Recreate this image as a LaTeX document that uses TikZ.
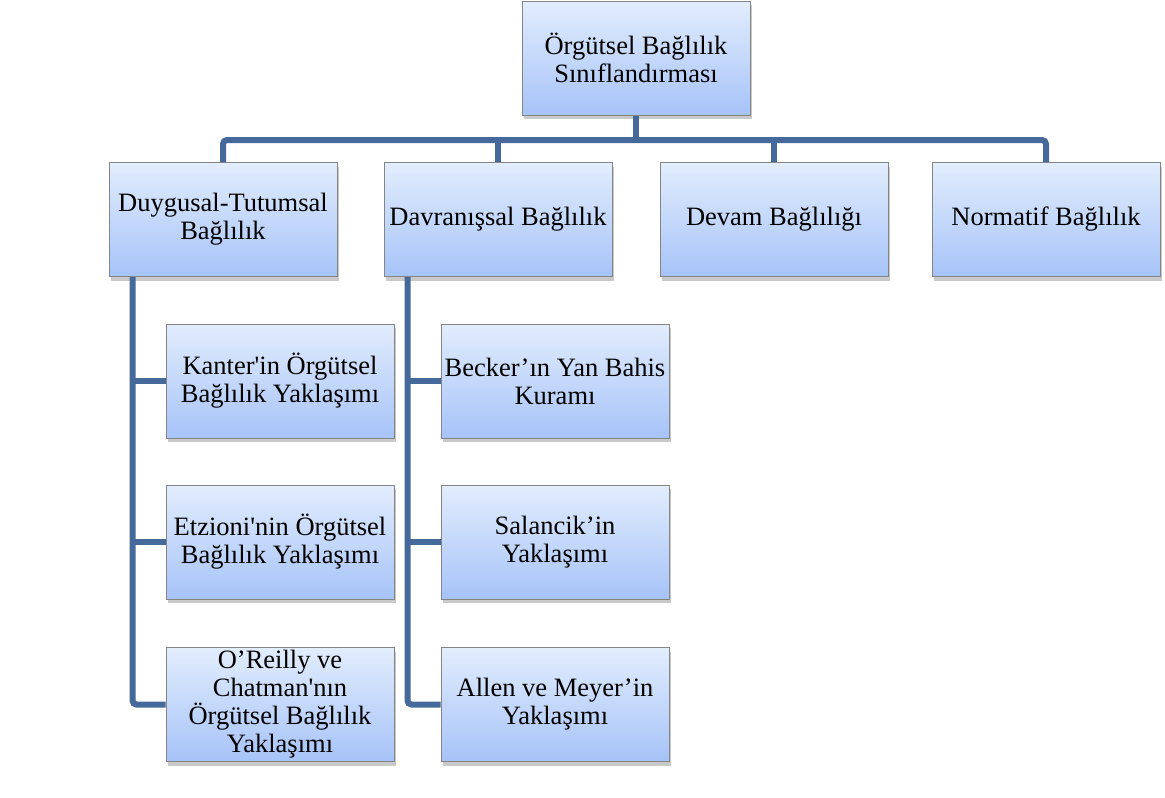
\documentclass[tikz,border=0pt]{standalone}
\usepackage{fontspec}
\setmainfont{Liberation Serif}[Ligatures=TeXOff]
\usetikzlibrary{shadows,calc}
\definecolor{conncol}{HTML}{46699B}
\definecolor{boxtop}{HTML}{E2EDFD}
\definecolor{boxbot}{HTML}{A6C3F8}
\definecolor{boxline}{HTML}{858585}
\tikzset{
  box/.style={rectangle, draw=boxline, line width=1pt, top color=boxtop, bottom color=boxbot,
    minimum width=228pt, minimum height=114pt, inner sep=0pt, align=center,
    font=\fontsize{26.5}{28}\selectfont,
    drop shadow={shadow xshift=2pt, shadow yshift=-4pt, opacity=0.3, fill=black!70}},
  conn/.style={draw=conncol, line width=6pt, rounded corners=4pt}
}
\begin{document}
\begin{tikzpicture}[x=1pt,y=-1pt]
\useasboundingbox (0,0) rectangle (1165,798);
\node[box] (root) at (636,58) {Örgütsel Bağlılık\\Sınıflandırması};
\node[box] (duy) at (223,219.5) {Duygusal-Tutumsal\\Bağlılık};
\node[box] (dav) at (498,219.5) {Davranışsal Bağlılık};
\node[box] (dev) at (774,219.5) {Devam Bağlılığı};
\node[box] (nor) at (1046,219.5) {Normatif Bağlılık};
\node[box] (kan) at (280,381) {Kanter'in Örgütsel\\Bağlılık Yaklaşımı};
\node[box] (etz) at (280,542) {Etzioni'nin Örgütsel\\Bağlılık Yaklaşımı};
\node[box] (ore) at (280,704.5) {O’Reilly ve\\Chatman'nın\\Örgütsel Bağlılık\\Yaklaşımı};
\node[box] (bec) at (555,381) {Becker’ın Yan Bahis\\Kuramı};
\node[box] (sal) at (555,542) {Salancik’in\\Yaklaşımı};
\node[box] (all) at (555,704.5) {Allen ve Meyer’in\\Yaklaşımı};
\coordinate (bus) at (636,140);
\coordinate (dl) at ([xshift=24pt]duy.south west);
\coordinate (vl) at ([xshift=24pt]dav.south west);
\draw[conn] (duy.north) |- (bus) -| (nor.north);
\draw[conn] (root.south) -- (bus);
\draw[conn] (dav.north) -- (dav.north |- bus);
\draw[conn] (dev.north) -- (dev.north |- bus);
\draw[conn] (dl) |- (ore.west);
\draw[conn] (kan.west) -- (kan.west -| dl);
\draw[conn] (etz.west) -- (etz.west -| dl);
\draw[conn] (vl) |- (all.west);
\draw[conn] (bec.west) -- (bec.west -| vl);
\draw[conn] (sal.west) -- (sal.west -| vl);
\end{tikzpicture}
\end{document}
